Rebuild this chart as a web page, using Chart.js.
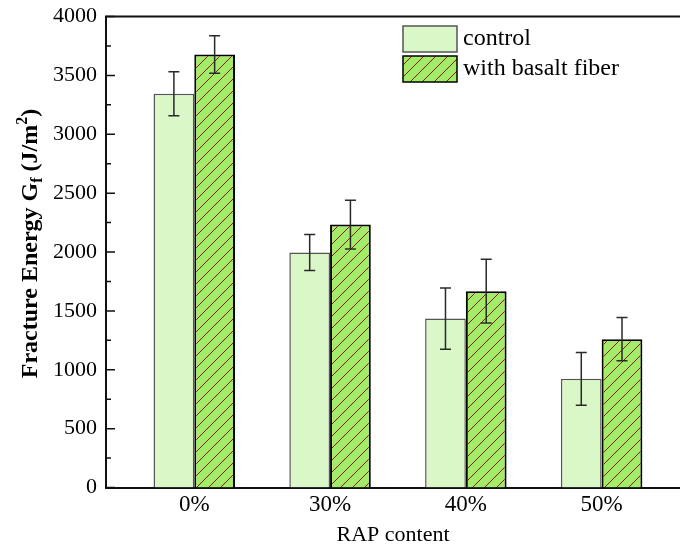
<!DOCTYPE html>
<html>
<head>
<meta charset="utf-8">
<script src="https://cdn.jsdelivr.net/npm/chart.js@4.4.0/dist/chart.umd.min.js"></script>
<style>
  html, body { margin: 0; padding: 0; background: #fff; }
  #wrap { width: 680px; height: 547px; }
</style>
</head>
<body>
<div id="wrap"><canvas id="chart" width="680" height="547"></canvas></div>
<script>
const categories = ["0%", "30%", "40%", "50%"];
const seriesNames = ["control", "with basalt fiber"];
const controlValues = [3344, 1995, 1435, 923];
const controlErrors = [187, 153, 260, 224];
const fiberValues = [3678, 2233, 1667, 1260];
const fiberErrors = [159, 207, 271, 184];
const yTicks = [0, 500, 1000, 1500, 2000, 2500, 3000, 3500, 4000];
const yMinorTicks = [250, 750, 1250, 1750, 2250, 2750, 3250, 3750];

const FONT = '"Liberation Serif", "Times New Roman", serif';
const controlFill = "#d9f7c7";
const fiberFill = "#a3ec68";

function makeHatch() {
    const s = 12;
    const c = document.createElement("canvas");
    c.width = s;
    c.height = s;
    const g = c.getContext("2d");
    g.fillStyle = fiberFill;
    g.fillRect(0, 0, s, s);
    g.strokeStyle = "#8a1c0c";
    g.lineWidth = 1;
    g.beginPath();
    g.moveTo(-1, s + 1);
    g.lineTo(s + 1, -1);
    g.moveTo(-1, 1);
    g.lineTo(1, -1);
    g.moveTo(s - 1, s + 1);
    g.lineTo(s + 1, s - 1);
    g.stroke();
    return g.createPattern(c, "repeat");
}
const hatch = makeHatch();

const toPoints = (values) => values.map((v, i) => ({ x: i + 1, y: v }));

// error bars, inward ticks, top frame line, y title and legend
const decorations = {
    id: "decorations",
    afterDatasetsDraw(chart) {
        const ctx = chart.ctx;
        const y = chart.scales.y;
        chart.data.datasets.forEach((ds, di) => {
            const meta = chart.getDatasetMeta(di);
            meta.data.forEach((bar, i) => {
                const v = ds.data[i].y;
                const e = ds.errors[i];
                const top = y.getPixelForValue(v + e);
                const bot = y.getPixelForValue(v - e);
                ctx.save();
                ctx.strokeStyle = "#2a2a2a";
                ctx.lineWidth = 1.5;
                ctx.beginPath();
                ctx.moveTo(bar.x, top);
                ctx.lineTo(bar.x, bot);
                ctx.moveTo(bar.x - 5.5, top);
                ctx.lineTo(bar.x + 5.5, top);
                ctx.moveTo(bar.x - 5.5, bot);
                ctx.lineTo(bar.x + 5.5, bot);
                ctx.stroke();
                ctx.restore();
            });
        });
    },
    afterDraw(chart) {
        const ctx = chart.ctx;
        const area = chart.chartArea;
        const y = chart.scales.y;
        ctx.save();
        ctx.strokeStyle = "#111";
        ctx.lineWidth = 1.5;
        ctx.beginPath();
        yTicks.forEach((v) => {
            const py = y.getPixelForValue(v);
            ctx.moveTo(area.left, py);
            ctx.lineTo(area.left + 9, py);
        });
        yMinorTicks.forEach((v) => {
            const py = y.getPixelForValue(v);
            ctx.moveTo(area.left, py);
            ctx.lineTo(area.left + 5, py);
        });
        ctx.stroke();
        ctx.lineWidth = 2;
        ctx.beginPath();
        ctx.moveTo(area.left - 1, area.top);
        ctx.lineTo(area.right, area.top);
        ctx.stroke();
        ctx.restore();

        // y axis title with sub/superscript
        ctx.save();
        ctx.translate(36.5, area.top + 227);
        ctx.rotate(-Math.PI / 2);
        ctx.fillStyle = "#000";
        ctx.textBaseline = "alphabetic";
        const big = "bold 24px " + FONT;
        const small = "bold 16px " + FONT;
        const parts = [
            { t: "Fracture Energy G", f: big, dy: 0 },
            { t: "f", f: small, dy: 5 },
            { t: " (J/m", f: big, dy: 0 },
            { t: "2", f: small, dy: -10 },
            { t: ")", f: big, dy: 0 }
        ];
        let total = 0;
        parts.forEach((p) => {
            ctx.font = p.f;
            p.w = ctx.measureText(p.t).width;
            total += p.w;
        });
        let px = -total / 2;
        parts.forEach((p) => {
            ctx.font = p.f;
            ctx.fillText(p.t, px, p.dy);
            px += p.w;
        });
        ctx.restore();

        // legend
        ctx.save();
        const boxes = [
            { fill: controlFill, stroke: "#555", top: 26 },
            { fill: hatch, stroke: "#000", top: 56 }
        ];
        boxes.forEach((b, i) => {
            ctx.fillStyle = b.fill;
            ctx.fillRect(403, b.top, 54, 26);
            ctx.strokeStyle = b.stroke;
            ctx.lineWidth = 1.5;
            ctx.strokeRect(403, b.top, 54, 26);
            ctx.fillStyle = "#000";
            ctx.font = "24px " + FONT;
            ctx.textBaseline = "middle";
            ctx.fillText(seriesNames[i], 463, b.top + 13);
        });
        ctx.restore();
    }
};

new Chart(document.getElementById("chart"), {
    type: "bar",
    data: {
        datasets: [
            {
                label: seriesNames[0],
                data: toPoints(controlValues),
                errors: controlErrors,
                backgroundColor: controlFill,
                borderColor: "#555",
                borderWidth: 1.5,
                categoryPercentage: 0.6,
                barPercentage: 1.0
            },
            {
                label: seriesNames[1],
                data: toPoints(fiberValues),
                errors: fiberErrors,
                backgroundColor: hatch,
                borderColor: "#000",
                borderWidth: 2,
                categoryPercentage: 0.6,
                barPercentage: 1.0
            }
        ]
    },
    options: {
        responsive: false,
        animation: false,
        devicePixelRatio: 1,
        layout: {
            padding: { top: 16.5, right: 0, bottom: 0, left: 0 }
        },
        plugins: {
            legend: { display: false },
            tooltip: { enabled: false }
        },
        scales: {
            x: {
                type: "linear",
                min: 0.35,
                max: 4.577,
                offset: false,
                afterBuildTicks: (axis) => {
                    axis.ticks = categories.map((_, i) => ({ value: i + 1 }));
                },
                afterFit: (axis) => {
                    axis.height = 59.5;
                    axis.paddingLeft = 0;
                    axis.paddingRight = 0;
                },
                ticks: {
                    callback: (value) => categories[Math.round(value) - 1] ?? "",
                    font: { family: FONT, size: 23 },
                    color: "#000",
                    padding: 4,
                    maxRotation: 0,
                    autoSkip: false
                },
                grid: { display: false, drawTicks: false, offset: false },
                border: { display: true, color: "#111", width: 2 },
                title: {
                    display: true,
                    text: "RAP content",
                    font: { family: FONT, size: 22, lineHeight: 1.05 },
                    color: "#000",
                    padding: 0
                }
            },
            y: {
                min: 0,
                max: 4000,
                afterBuildTicks: (axis) => {
                    axis.ticks = yTicks.map((v) => ({ value: v }));
                },
                afterFit: (axis) => {
                    axis.width = 106;
                    axis.paddingTop = 0;
                    axis.paddingBottom = 0;
                },
                ticks: {
                    callback: (value) => String(value),
                    font: { family: FONT, size: 22 },
                    color: "#000",
                    padding: 9
                },
                grid: { display: false, drawTicks: false },
                border: { display: true, color: "#111", width: 2 }
            }
        }
    },
    plugins: [decorations]
});
</script>
</body>
</html>
